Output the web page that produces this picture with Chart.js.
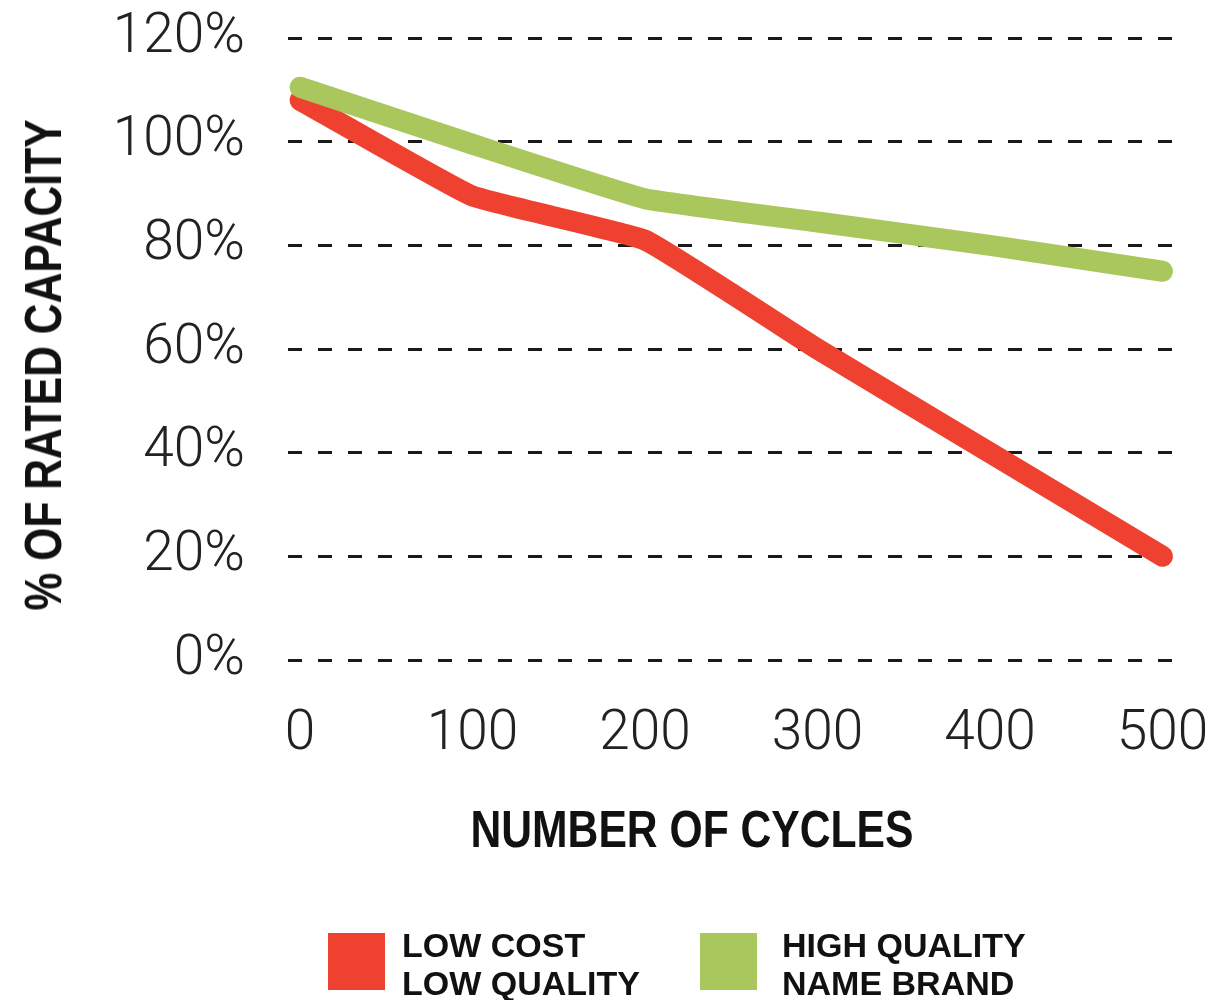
<!DOCTYPE html>
<html>
<head>
<meta charset="utf-8">
<script src="https://cdn.jsdelivr.net/npm/chart.js@4.4.1/dist/chart.umd.min.js"></script>
<style>
    html, body { margin: 0; padding: 0; background: #fff; }
    #wrap { position: relative; width: 1210px; height: 1000px; overflow: hidden; }
    #grafico { position: absolute; left: 0; top: 0; }
    .caja { position: absolute; width: 57px; height: 57px; }
    .texto {
        position: absolute;
        font-family: "Liberation Sans", Arial, sans-serif;
        font-weight: bold;
        font-size: 34px;
        line-height: 38px;
        color: #111;
        white-space: nowrap;
    }
    .titulo {
        position: absolute;
        font-family: "Liberation Sans", Arial, sans-serif;
        font-weight: bold;
        font-size: 52px;
        line-height: 52px;
        color: #111;
        white-space: nowrap;
    }
</style>
</head>
<body>
<div id="wrap">
    <canvas id="grafico" width="1210" height="1000"></canvas>
    <div class="titulo" id="tituloX" style="left:692px; top:829px; transform: translate(-50%, -50%) scaleX(0.82);">NUMBER OF CYCLES</div>
    <div class="titulo" id="tituloY" style="left:43px; top:365px; transform: translate(-50%, -50%) rotate(-90deg) scaleX(0.82);">% OF RATED CAPACITY</div>
    <div id="leyenda"></div>
</div>
<script>
// datos
const ciclos = [0, 100, 200, 300, 400, 500];
const bajoCosto = [108, 89.5, 81, 60, 40, 20];
const altaCalidad = [110.5, 99.5, 89, 84.5, 80, 75];
const yTicks = [0, 20, 40, 60, 80, 100, 120];
const nombres = [['LOW COST', 'LOW QUALITY'], ['HIGH QUALITY', 'NAME BRAND']];
const colores = ['#EF4130', '#A9C75C'];

const ligera = 'Roboto, "Open Sans", sans-serif';

const ctx = document.getElementById('grafico').getContext('2d');
const chart = new Chart(ctx, {
    type: 'line',
    data: {
        datasets: [{
            label: nombres[0].join(' '),
            data: ciclos.map((c, i) => ({ x: c, y: bajoCosto[i] })),
            borderColor: colores[0],
            backgroundColor: colores[0],
            borderWidth: 21,
            order: 2
        }, {
            label: nombres[1].join(' '),
            data: ciclos.map((c, i) => ({ x: c, y: altaCalidad[i] })),
            borderColor: colores[1],
            backgroundColor: colores[1],
            borderWidth: 21,
            order: 1
        }]
    },
    options: {
        responsive: false,
        animation: false,
        layout: { padding: { top: 38, right: 32, bottom: 200, left: 0 } },
        elements: {
            point: { radius: 0, hoverRadius: 0 },
            line: { tension: 0.1, borderCapStyle: 'round', borderJoinStyle: 'round' }
        },
        datasets: { line: { clip: false } },
        plugins: {
            legend: { display: false },
            tooltip: { enabled: false }
        },
        scales: {
            x: {
                type: 'linear',
                min: -7,
                max: 509,
                afterBuildTicks: s => { s.ticks = ciclos.map(v => ({ value: v })); },
                afterFit: s => { s.height = 140; s.paddingLeft = 0; s.paddingRight = 0; },
                grid: { display: false },
                border: { display: false },
                ticks: {
                    padding: 34,
                    color: '#222',
                    font: { family: ligera, size: 55, weight: 300 }
                }
            },
            y: {
                min: 0,
                max: 120,
                afterBuildTicks: s => { s.ticks = yTicks.map(v => ({ value: v })); },
                afterFit: s => { s.width = 288; s.paddingTop = 0; s.paddingBottom = 0; },
                grid: { color: '#1a1a1a', lineWidth: 3, drawTicks: false },
                border: { display: false, dash: [14, 16] },
                ticks: {
                    padding: 43,
                    color: '#222',
                    font: { family: ligera, size: 55, weight: 300 },
                    callback: v => v + '%'
                }
            }
        }
    }
});

// leyenda en html, dos lineas por serie
const leyenda = document.getElementById('leyenda');
const posCaja = [328, 700];
const posTexto = [402, 782];
nombres.forEach((n, i) => {
    const caja = document.createElement('div');
    caja.className = 'caja';
    caja.style.left = posCaja[i] + 'px';
    caja.style.top = '933px';
    caja.style.background = colores[i];
    leyenda.appendChild(caja);

    const t = document.createElement('div');
    t.className = 'texto';
    t.style.left = posTexto[i] + 'px';
    t.style.top = '926px';
    t.innerHTML = n.join('<br>');
    leyenda.appendChild(t);
});
</script>
</body>
</html>
